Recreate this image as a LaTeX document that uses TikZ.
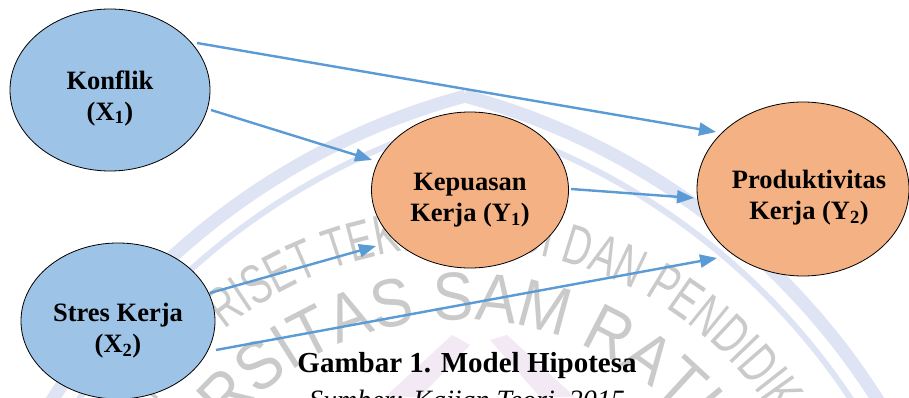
\documentclass[tikz,border=0pt]{standalone}
\usepackage{fontspec}
\setmainfont{Liberation Serif}
\newfontfamily\wmfont[FakeStretch=0.9]{Liberation Sans}
\newfontfamily\wmnarrow[FakeStretch=0.68]{Liberation Sans}
\usetikzlibrary{shapes.geometric,arrows.meta,calc,decorations.text}
\definecolor{bluefill}{HTML}{9DC3E6}
\definecolor{orangefill}{HTML}{F4B183}
\definecolor{arrowblue}{HTML}{5B9BD5}
\definecolor{wmgray}{HTML}{CACACA}
\definecolor{wmblue}{HTML}{DFE4F5}
\definecolor{wmpurple}{HTML}{F3E9F5}
\tikzset{
  bubble/.style={ellipse, draw=black, line width=0.8pt, inner sep=0pt},
  xvar/.style={bubble, fill=bluefill},
  yvar/.style={bubble, fill=orangefill},
  lbl/.style={font=\bfseries\fontsize{26.5}{31}\selectfont, align=center, text=black},
  arr/.style={draw=arrowblue, line width=2.4pt, -{Triangle[length=17pt,width=13pt]}},
  band/.style={draw=wmblue},
}
\begin{document}
\begin{tikzpicture}[x=1pt,y=1pt]
\useasboundingbox (0,0) rectangle (909,397);
\clip (0,0) rectangle (909,397);
\fill[white] (0,0) rectangle (909,397);
% watermark
\fill[wmpurple] (452,62) -- (470,52) -- (420,0) -- (385,0) -- cycle;
\fill[wmpurple] (490,57) -- (507,62) -- (575,0) -- (540,0) -- cycle;
\draw[band, line width=13pt] (648,-380) ++(105:705) arc[start angle=105, end angle=165, radius=705];
\draw[band, line width=13pt] (282,-380) ++(75:705) arc[start angle=75, end angle=15, radius=705];
\draw[band, line width=6pt] (648,-380) ++(105:683) arc[start angle=105, end angle=165, radius=683];
\draw[band, line width=6pt] (282,-380) ++(75:683) arc[start angle=75, end angle=15, radius=683];
\path[decorate, decoration={text along path, text align=center, text color=wmgray,
  text={|\wmfont\fontsize{68}{68}\selectfont|UNIVERSITAS SAM RATULANGI}}]
  (460,-227) ++(188:304) arc[start angle=188, end angle=-12, radius=304];
\path[decorate, decoration={text along path, text align=center, text color=wmgray,
  text={|\wmnarrow\fontsize{56}{56}\selectfont|KEMENTERIAN RISET TEKNOLOGI DAN PENDIDIKAN TINGGI}}]
  (460,-227) ++(218:377) arc[start angle=218, end angle=-42, radius=377];
% nodes
\node[xvar, minimum width=200pt, minimum height=162pt,
  label={[lbl,yshift=-8pt]center:{Konflik\\(X\textsubscript{1})}}] (k1) at (110,307) {};
\node[xvar, minimum width=194pt, minimum height=156pt,
  label={[lbl,yshift=-10pt]center:{Stres Kerja\\(X\textsubscript{2})}}] (s2) at (118,76) {};
\node[yvar, minimum width=197pt, minimum height=156pt,
  label={[lbl,yshift=-10pt]center:{Kepuasan\\Kerja (Y\textsubscript{1})}}] (kp) at (470,207) {};
\node[yvar, minimum width=212pt, minimum height=174pt,
  label={[lbl,xshift=6pt,yshift=-9pt]center:{Produktivitas\\Kerja (Y\textsubscript{2})}}] (pk) at (803,208) {};
% connectors
\draw[arr] ($(k1)+(87,47)$) -- ($(pk)+(-87,57)$);
\draw[arr] ($(k1)+(101,-20)$) -- ($(kp)+(-98,30)$);
\draw[arr] ($(kp)+(101,1)$) -- ($(pk)+(-109,-9)$);
\draw[arr] ($(s2)+(92,28)$) -- ($(kp)+(-94,-56)$);
\draw[arr] ($(s2)+(98,-29)$) -- ($(pk)+(-86,-69)$);
% caption
\node[font=\bfseries\fontsize{29}{34}\selectfont, anchor=base] (cap) at (467,25) {Gambar 1. Model Hipotesa};
\node[font=\itshape\fontsize{28}{34}\selectfont, anchor=base] (src) at (467,-12) {Sumber: Kajian Teori, 2015};
\end{tikzpicture}
\end{document}
